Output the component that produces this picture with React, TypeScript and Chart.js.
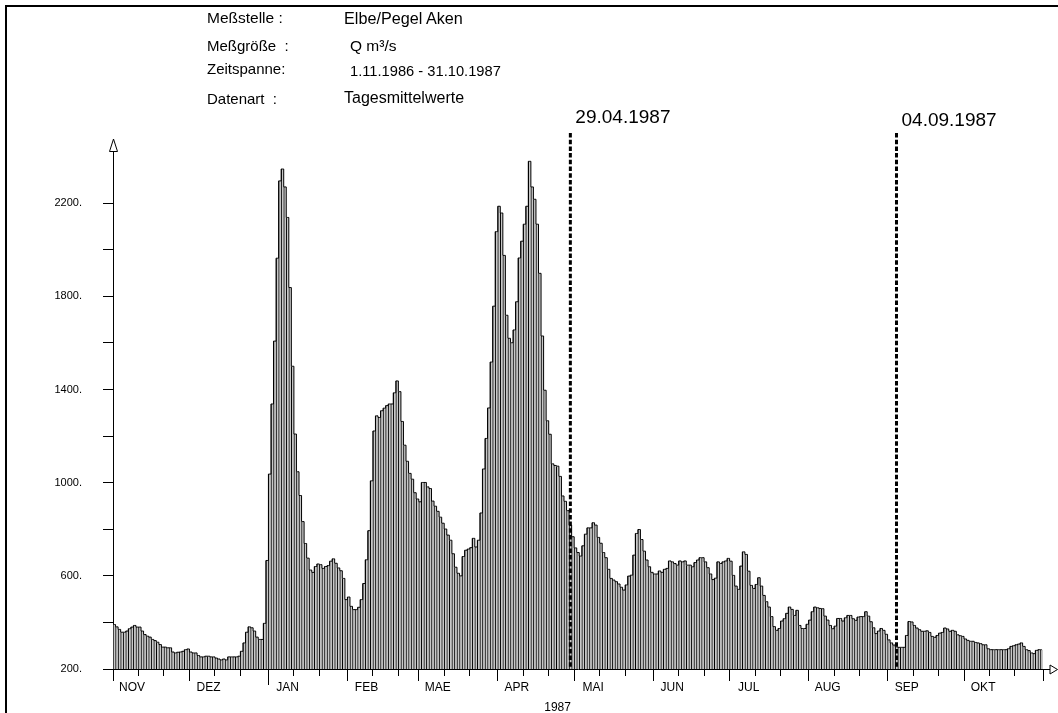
import React, { useEffect, useRef } from 'react';
import { Chart, registerables } from 'chart.js';

Chart.register(...registerables);

// ---------- data (Q m³/s, daily mean values, Elbe / Pegel Aken) ----------
const MONTHS = ['NOV', 'DEZ', 'JAN', 'FEB', 'MAE', 'APR', 'MAI', 'JUN', 'JUL', 'AUG', 'SEP', 'OKT'];
const MONTH_NUMBERS = [11, 12, 1, 2, 3, 4, 5, 6, 7, 8, 9, 10];

const Q_NOV = [391, 381, 370, 358, 358, 363, 373, 380, 387, 380, 380, 363, 348, 341, 337, 327, 322, 315, 305, 294, 294, 291, 291, 273, 269, 272, 273, 276, 283, 286];
const Q_DEZ = [273, 269, 269, 258, 252, 252, 255, 255, 252, 252, 247, 243, 239, 243, 239, 252, 252, 252, 252, 255, 276, 312, 358, 381, 377, 363, 337, 327, 327, 396, 666];
const Q_JAN = [1037, 1338, 1608, 1964, 2296, 2347, 2270, 2139, 1838, 1500, 1209, 1047, 945, 833, 739, 676, 625, 615, 640, 651, 648, 632, 640, 644, 663, 673, 654, 634, 622, 589, 498];
const Q_FEB = [509, 469, 455, 455, 465, 498, 567, 669, 794, 1008, 1222, 1287, 1280, 1309, 1320, 1331, 1338, 1338, 1386, 1437, 1391, 1263, 1161, 1092, 1040, 1015, 957, 930];
const Q_MAE = [918, 1001, 1001, 982, 975, 921, 899, 877, 852, 826, 801, 775, 753, 695, 637, 611, 600, 683, 710, 715, 721, 761, 724, 753, 870, 1059, 1190, 1321, 1518, 1758, 2078];
const Q_APR = [2187, 2158, 1976, 1719, 1620, 1601, 1656, 1777, 1965, 2037, 2110, 2187, 2380, 2270, 2217, 2110, 1899, 1630, 1397, 1266, 1208, 1081, 1074, 1071, 1027, 943, 920, 880, 818, 768];
const Q_MAI = [720, 700, 685, 729, 779, 806, 806, 828, 818, 765, 740, 700, 678, 628, 589, 582, 575, 565, 551, 539, 561, 599, 603, 689, 782, 799, 756, 706, 668, 639, 615];
const Q_JUN = [608, 608, 621, 615, 628, 632, 664, 660, 653, 646, 664, 660, 664, 646, 646, 639, 657, 668, 678, 678, 660, 635, 608, 584, 590, 660, 653, 660, 664, 675];
const Q_JUL = [663, 602, 556, 542, 642, 703, 692, 620, 559, 546, 563, 592, 556, 516, 489, 466, 425, 382, 366, 374, 406, 416, 439, 466, 456, 430, 452, 387, 374, 374, 392];
const Q_AUG = [410, 446, 466, 463, 460, 459, 427, 410, 387, 373, 384, 417, 417, 406, 420, 430, 430, 416, 409, 423, 425, 425, 446, 427, 403, 377, 352, 363, 374, 366, 349];
const Q_SEP = [325, 312, 303, 295, 293, 293, 293, 344, 404, 402, 387, 376, 369, 362, 362, 364, 357, 340, 336, 344, 354, 357, 376, 372, 362, 366, 362, 347, 343, 340];
const Q_OKT = [329, 323, 319, 319, 314, 312, 309, 304, 304, 287, 283, 283, 283, 283, 283, 283, 283, 287, 297, 300, 304, 307, 312, 297, 283, 279, 269, 266, 280, 283, 283];

const MONTHLY_Q = [Q_NOV, Q_DEZ, Q_JAN, Q_FEB, Q_MAE, Q_APR, Q_MAI, Q_JUN, Q_JUL, Q_AUG, Q_SEP, Q_OKT];

const Y_MIN = 200;
const Y_MAX = 2420;
const Y_TICKS = [200, 400, 600, 800, 1000, 1200, 1400, 1600, 1800, 2000, 2200];
const Y_LABELED = [200, 600, 1000, 1400, 1800, 2200];

const YEAR_LABEL = '1987';
const YEAR_LABEL_INDEX = 174;

const MARKERS = [
  { text: '29.04.1987', month: 5, day: 29 },
  { text: '04.09.1987', month: 10, day: 4 },
];

const HEADER_LABELS = ['Meßstelle :', 'Meßgröße  :', 'Zeitspanne:', 'Datenart  :'];
const HEADER_VALUES = ['Elbe/Pegel Aken', 'Q m³/s', '1.11.1986 - 31.10.1987', 'Tagesmittelwerte'];

// ---------- derived tables ----------
const values: number[] = [];
const labels: string[] = [];
const monthStarts: number[] = [];
MONTHLY_Q.forEach((arr, m) => {
  monthStarts.push(values.length);
  arr.forEach((v, d) => {
    values.push(v);
    labels.push(`${d + 1}.${MONTH_NUMBERS[m]}.`);
  });
});

const tickText: (string | string[])[] = labels.map(() => '');
monthStarts.forEach((s, m) => {
  tickText[s + 7] = MONTHS[m];
});
tickText[YEAR_LABEL_INDEX] = ['', YEAR_LABEL];

function tickKind(index: number | undefined): string {
  if (index === undefined || index >= values.length) return 'month';
  let m = 0;
  for (let k = 0; k < monthStarts.length; k++) if (monthStarts[k] <= index) m = k;
  const d = index - monthStarts[m];
  if (d === 0) return MONTHS[m] === 'JAN' ? 'year' : 'month';
  if (d === 10 || d === 20) return 'minor';
  return 'none';
}

const FONT = "'Liberation Sans', Arial, Helvetica, sans-serif";

// ---------- layout / style constants ----------
const W = 1058;
const H = 713;
const HEADER_LABEL_POS = [
  { x: 207, y: 17.5, size: 15.5 },
  { x: 207, y: 45.5, size: 15 },
  { x: 207, y: 69, size: 15 },
  { x: 207, y: 98.5, size: 15 },
];
const HEADER_VALUE_POS = [
  { x: 344, y: 17.5, size: 16.2 },
  { x: 350, y: 46, size: 15.5 },
  { x: 350, y: 71, size: 14.7 },
  { x: 344, y: 98, size: 16 },
];
const MARKER_LABEL_Y = [118, 121];

const decorPlugin = {
  id: 'decor',
  afterDraw(chart: any) {
    const { ctx, chartArea, scales } = chart;
    const xs = scales.x;
    ctx.save();

    // y-axis arrow
    const ax = 113.5;
    ctx.setLineDash([]);
    ctx.lineWidth = 1;
    ctx.strokeStyle = '#000';
    ctx.fillStyle = '#fff';
    ctx.beginPath();
    ctx.moveTo(ax, 139);
    ctx.lineTo(ax - 4, 151.5);
    ctx.lineTo(ax + 4, 151.5);
    ctx.closePath();
    ctx.fill();
    ctx.stroke();

    // x-axis extension + arrow
    const ay = 669.5;
    ctx.beginPath();
    ctx.moveTo(chartArea.right, ay);
    ctx.lineTo(1050, ay);
    ctx.stroke();
    ctx.beginPath();
    ctx.moveTo(1057.5, ay);
    ctx.lineTo(1050, ay - 4.5);
    ctx.lineTo(1050, ay + 4.5);
    ctx.closePath();
    ctx.fill();
    ctx.stroke();

    // date markers
    MARKERS.forEach((mk, i) => {
      const idx = monthStarts[mk.month] + mk.day - 1;
      const px = xs.getPixelForValue(idx);
      ctx.strokeStyle = '#000';
      ctx.lineWidth = 3;
      ctx.setLineDash([4.5, 2.2]);
      ctx.beginPath();
      ctx.moveTo(px, 133);
      ctx.lineTo(px, chartArea.bottom);
      ctx.stroke();
      ctx.setLineDash([]);
      ctx.fillStyle = '#000';
      ctx.font = `19px ${FONT}`;
      ctx.textBaseline = 'middle';
      ctx.textAlign = 'left';
      ctx.fillText(mk.text, px + 5, MARKER_LABEL_Y[i]);
    });
    ctx.restore();
  },
};

export default function App() {
  const canvasRef = useRef<HTMLCanvasElement | null>(null);

  useEffect(() => {
    if (!canvasRef.current) return;
    const chart = new Chart(canvasRef.current, {
      type: 'bar',
      data: {
        labels,
        datasets: [
          {
            type: 'line',
            data: values,
            borderColor: '#000',
            borderWidth: 1,
            pointRadius: 0,
            stepped: 'middle',
            fill: false,
            order: 0,
          } as any,
          {
            type: 'bar',
            data: values,
            backgroundColor: '#c8c8c8',
            borderColor: '#000000',
            borderWidth: { left: 1, top: 0, right: 0, bottom: 0 },
            barPercentage: 1,
            categoryPercentage: 1,
            order: 1,
          } as any,
        ],
      },
      options: {
        responsive: false,
        animation: false,
        events: [],
        layout: { padding: { top: 152, right: 15, left: 0, bottom: 0 } },
        plugins: {
          legend: { display: false },
          tooltip: { enabled: false },
          title: { display: false },
        },
        scales: {
          x: {
            type: 'category',
            offset: true,
            grid: {
              offset: true,
              drawOnChartArea: false,
              drawTicks: true,
              tickLength: 16,
              tickWidth: 1,
              tickColor: (c: any) => (tickKind(c.type === 'tick' ? c.index : undefined) === 'none' ? 'rgba(0,0,0,0)' : '#000'),
              tickBorderDash: (c: any) => {
                const k = tickKind(c.type === 'tick' ? c.index : undefined);
                if (k === 'month') return [11, 40];
                if (k === 'minor') return [6, 40];
                return [];
              },
            },
            border: { display: true, color: '#000', width: 1 },
            ticks: {
              autoSkip: false,
              maxRotation: 0,
              minRotation: 0,
              padding: -7,
              color: '#000',
              font: { family: FONT, size: 12, lineHeight: 20 / 12 },
              callback: (_v: any, i: number) => tickText[i],
            },
            afterFit: (s: any) => {
              s.height = 44;
            },
          } as any,
          y: {
            type: 'linear',
            min: Y_MIN,
            max: Y_MAX,
            afterBuildTicks: (s: any) => {
              s.ticks = Y_TICKS.map((v) => ({ value: v }));
            },
            grid: {
              drawOnChartArea: false,
              drawTicks: true,
              tickLength: 10,
              tickColor: '#000',
              tickWidth: 1,
            },
            border: { display: true, color: '#000', width: 1 },
            ticks: {
              padding: 21,
              color: '#000',
              font: { family: FONT, size: 11 },
              callback: (v: any) => (Y_LABELED.includes(Number(v)) ? `${v}.` : ''),
            },
            afterFit: (s: any) => {
              s.width = 113;
            },
          } as any,
        },
      },
      plugins: [decorPlugin],
    });
    return () => chart.destroy();
  }, []);

  const textStyle = (x: number, y: number, size: number): React.CSSProperties => ({
    position: 'absolute',
    left: x,
    top: y - 10,
    height: 20,
    lineHeight: '20px',
    fontSize: size,
    fontFamily: FONT,
    color: '#000',
    whiteSpace: 'pre',
  });

  return (
    <div style={{ position: 'absolute', left: 0, top: 0, width: W, height: H, background: '#fff', overflow: 'hidden' }}>
      <canvas ref={canvasRef} width={W} height={H} style={{ position: 'absolute', left: 0, top: 0 }} />
      <div style={{ position: 'absolute', left: 5, top: 5, width: W - 5, height: 2, background: '#000' }} />
      <div style={{ position: 'absolute', left: 5, top: 5, width: 2, height: H - 5, background: '#000' }} />
      {HEADER_LABELS.map((t, i) => (
        <div key={'l' + i} style={textStyle(HEADER_LABEL_POS[i].x, HEADER_LABEL_POS[i].y, HEADER_LABEL_POS[i].size)}>
          {t}
        </div>
      ))}
      {HEADER_VALUES.map((t, i) => (
        <div key={'v' + i} style={textStyle(HEADER_VALUE_POS[i].x, HEADER_VALUE_POS[i].y, HEADER_VALUE_POS[i].size)}>
          {t}
        </div>
      ))}
    </div>
  );
}
